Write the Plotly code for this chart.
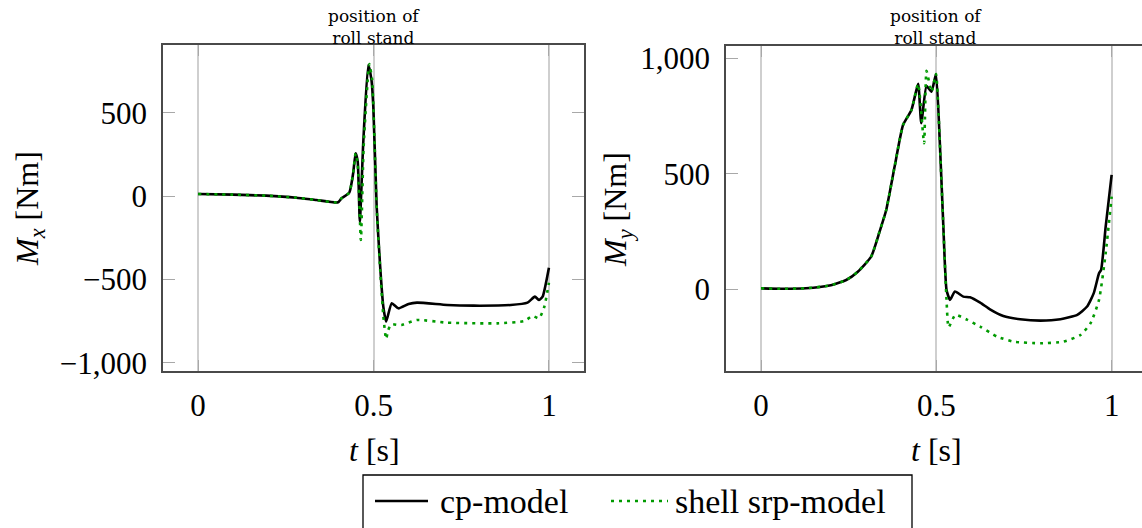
import plotly.graph_objects as go

# ---- M_x (left panel) ----
t_mx_cp = [0.0, 0.1, 0.194, 0.28, 0.337, 0.399, 0.409, 0.431, 0.442, 0.449, 0.455,
           0.461, 0.471, 0.485, 0.494, 0.4995, 0.509, 0.519, 0.528, 0.536, 0.552,
           0.571, 0.60, 0.624, 0.71, 0.786, 0.891, 0.939, 0.96, 0.972, 0.982, 1.0]
mx_cp = [12, 8, 2, -10, -24, -38, -14, 20, 136, 256, 206,
         -154, 330, 786, 700, 536, -64, -424, -664, -754, -644,
         -674, -648, -640, -654, -658, -654, -640, -604, -624, -604, -430]

t_mx_srp = [0.0, 0.1, 0.194, 0.28, 0.337, 0.399, 0.409, 0.431, 0.442, 0.449, 0.455,
            0.464, 0.472, 0.488, 0.496, 0.50, 0.509, 0.519, 0.528, 0.536, 0.542,
            0.55, 0.57, 0.58, 0.624, 0.71, 0.853, 0.93, 0.953, 0.972, 0.987, 1.0]
mx_srp = [12, 8, 2, -10, -24, -38, -14, 20, 136, 256, 190,
          -264, 300, 792, 700, 520, -70, -440, -720, -858, -804,
          -770, -774, -774, -744, -760, -764, -750, -720, -734, -664, -520]

# ---- M_y (right panel) ----
t_my_cp = [0.0, 0.06, 0.128, 0.195, 0.243, 0.276, 0.314, 0.338, 0.357, 0.381,
           0.405, 0.429, 0.448, 0.457, 0.472, 0.486, 0.499, 0.51, 0.52, 0.529,
           0.539, 0.553, 0.577, 0.596, 0.625, 0.653, 0.691, 0.739, 0.797, 0.854,
           0.902, 0.93, 0.949, 0.964, 0.97, 0.983, 1.0]
my_cp = [4, 2, 4, 16, 40, 76, 141, 249, 343, 531,
         711, 776, 889, 719, 880, 855, 932, 632, 271, -3,
         -46, -10, -32, -35, -58, -87, -116, -130, -136, -130,
         -111, -75, -17, 69, 84, 271, 495]

t_my_srp = [0.0, 0.06, 0.128, 0.195, 0.243, 0.276, 0.314, 0.338, 0.357, 0.381,
            0.405, 0.429, 0.448, 0.465, 0.472, 0.486, 0.499, 0.51, 0.52, 0.529,
            0.535, 0.554, 0.585, 0.625, 0.673, 0.72, 0.797, 0.863, 0.911, 0.94,
            0.964, 0.983, 1.0]
my_srp = [4, 2, 4, 16, 40, 76, 141, 249, 343, 531,
          711, 776, 889, 632, 946, 855, 932, 632, 271, -46,
          -165, -111, -130, -162, -205, -227, -234, -227, -198, -147,
          -46, 156, 401]

series_names = ["cp-model", "shell srp-model"]
x_ticks = [0, 0.5, 1]
x_tick_text = ["0", "0.5", "1"]
mx_ticks = [-1000, -500, 0, 500]
my_ticks = [0, 500, 1000]

W, H = 1142, 528
SERIF = "Liberation Serif, Times New Roman, serif"
BLACK_LINE = dict(color="black", width=2.6, shape="spline", smoothing=0.5)
GREEN_LINE = dict(color="#009a00", width=2.6, dash="3px,5px", shape="spline", smoothing=0.5)
FRAME = "#4a4a4a"
GRID = "#cfcfcf"
TICK = "#a8a8a8"


def px(x):
    return x / W


def py(y):
    return 1 - y / H


fig = go.Figure()
fig.add_trace(go.Scatter(x=t_mx_cp, y=mx_cp, mode="lines", line=BLACK_LINE,
                         name=series_names[0], xaxis="x", yaxis="y"))
fig.add_trace(go.Scatter(x=t_mx_srp, y=mx_srp, mode="lines", line=GREEN_LINE,
                         name=series_names[1], xaxis="x", yaxis="y"))
fig.add_trace(go.Scatter(x=t_my_cp, y=my_cp, mode="lines", line=BLACK_LINE,
                         name=series_names[0], xaxis="x2", yaxis="y2"))
fig.add_trace(go.Scatter(x=t_my_srp, y=my_srp, mode="lines", line=GREEN_LINE,
                         name=series_names[1], xaxis="x2", yaxis="y2"))

tick_font = dict(family=SERIF, size=31, color="black")

xaxis_common = dict(
    tickvals=x_ticks, ticktext=x_tick_text, tickfont=tick_font,
    showgrid=True, gridcolor=GRID, gridwidth=1.6, zeroline=False,
    ticks="inside", ticklen=11, tickcolor=TICK, tickwidth=1.4,
    showline=True, linecolor=FRAME, linewidth=1.6, mirror="ticks",
    ticklabelstandoff=6, automargin=False, fixedrange=True,
)
yaxis_common = dict(
    tickfont=tick_font, tickformat=",", showgrid=False, zeroline=False,
    ticks="inside", ticklen=12, tickcolor=TICK, tickwidth=1.4,
    showline=True, linecolor=FRAME, linewidth=1.6,
    ticklabelstandoff=8, automargin=False, fixedrange=True,
)

fig.update_layout(
    width=W, height=H,
    margin=dict(l=0, r=0, t=0, b=0),
    paper_bgcolor="white", plot_bgcolor="white",
    showlegend=False,
    separators=".,",
    xaxis=dict(domain=[px(163), px(584)], range=[-0.1, 1.1], anchor="y", **xaxis_common),
    yaxis=dict(domain=[py(371), py(45)], range=[-1050, 906], anchor="x",
               tickvals=mx_ticks, mirror="ticks", **yaxis_common),
    xaxis2=dict(domain=[px(726), 1.0], range=[-0.1, 1.0866], anchor="y2", **xaxis_common),
    yaxis2=dict(domain=[py(371), py(46)], range=[-354, 1053], anchor="x2",
                tickvals=my_ticks, mirror=False, **yaxis_common),
    # right-hand tick marks of the second panel (its right frame edge lies off-page)
    yaxis3=dict(overlaying="y2", side="right", anchor="x2", matches="y2",
                tickvals=my_ticks, showticklabels=False, ticks="inside",
                ticklen=12, tickcolor=TICK, tickwidth=1.4, showline=False,
                showgrid=False, zeroline=False, automargin=False),
)

annotations = []
title_font = dict(family="DejaVu Serif, serif", size=17, color="black")
label_font = dict(family=SERIF, size=32, color="black")
legend_font = dict(family=SERIF, size=34, color="black")
for cx in (374, 936):
    annotations.append(dict(text="position of<br>roll stand", x=px(cx), y=py(27),
                            xref="paper", yref="paper", showarrow=False,
                            xanchor="center", yanchor="middle", font=title_font))
    annotations.append(dict(text="<i>t</i> [s]", x=px(cx), y=py(450),
                            xref="paper", yref="paper", showarrow=False,
                            xanchor="center", yanchor="middle", font=label_font))
annotations.append(dict(text="<i>M</i><sub><i>x</i></sub> [Nm]", x=px(30), y=py(209),
                        xref="paper", yref="paper", showarrow=False, textangle=-90,
                        xanchor="center", yanchor="middle", font=label_font))
annotations.append(dict(text="<i>M</i><sub><i>y</i></sub> [Nm]", x=px(617), y=py(210),
                        xref="paper", yref="paper", showarrow=False, textangle=-90,
                        xanchor="center", yanchor="middle", font=label_font))

# legend box with sample lines
legend_y = 501
annotations.append(dict(text=series_names[0], x=px(438), y=py(legend_y),
                        xref="paper", yref="paper", showarrow=False,
                        xanchor="left", yanchor="middle", font=legend_font))
annotations.append(dict(text=series_names[1], x=px(673), y=py(legend_y),
                        xref="paper", yref="paper", showarrow=False,
                        xanchor="left", yanchor="middle", font=legend_font))
fig.update_layout(annotations=annotations)

shapes = [
    dict(type="rect", xref="paper", yref="paper", x0=px(363), x1=px(912),
         y0=py(475), y1=py(545), line=dict(color="black", width=1.3),
         fillcolor="rgba(0,0,0,0)"),
    dict(type="line", xref="paper", yref="paper", x0=px(375), x1=px(428),
         y0=py(legend_y), y1=py(legend_y), line=dict(color="black", width=2.6)),
    dict(type="line", xref="paper", yref="paper", x0=px(611), x1=px(668),
         y0=py(legend_y), y1=py(legend_y),
         line=dict(color="#009a00", width=2.6, dash="3px,5px")),
]
fig.update_layout(shapes=shapes)

fig.write_html("out.html")
